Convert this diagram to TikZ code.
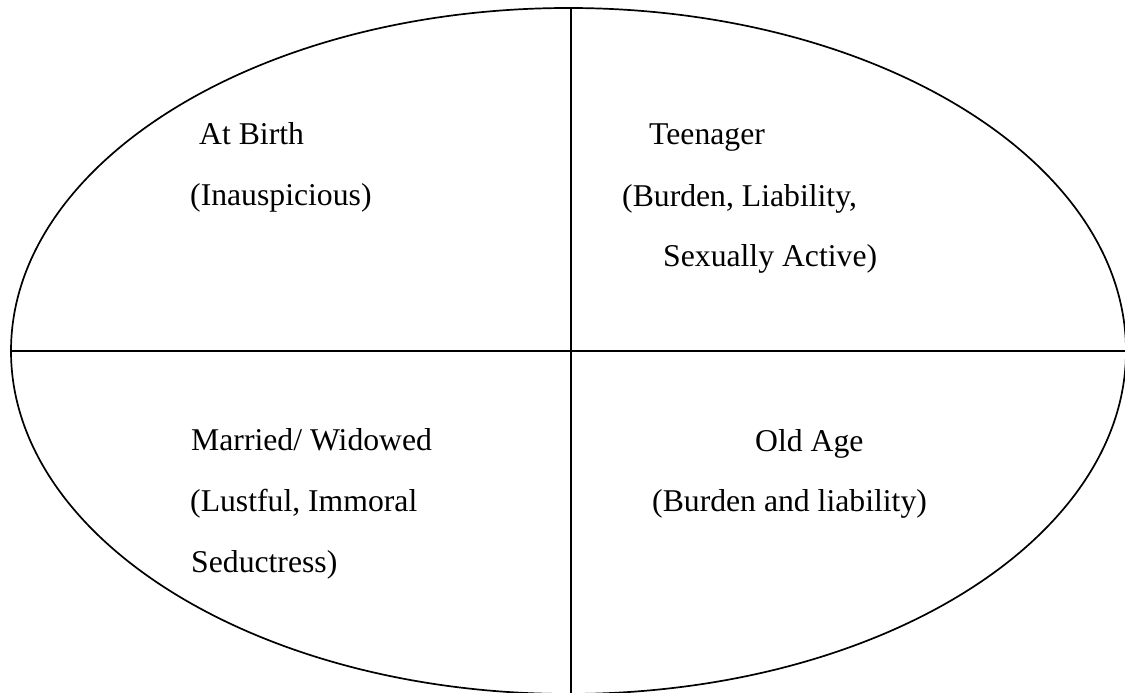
\documentclass[tikz,border=0pt]{standalone}
\usepackage{fontspec}
\setmainfont{Liberation Serif}
\begin{document}
\begin{tikzpicture}[x=1pt,y=1pt,
  outline/.style={draw=black,line width=1.7pt},
  label/.style={anchor=base west,inner sep=0pt,font=\fontsize{31.7}{38}\selectfont}]
\useasboundingbox (0,0) rectangle (1125,693);
% outer ellipse
\draw[outline] (568.5,342) ellipse [x radius=557.5, y radius=343];
% quadrant dividers
\coordinate (top) at (571,685);
\coordinate (bottom) at (571,-2);
\coordinate (left) at (11,342);
\coordinate (right) at (1126,342);
\draw[outline] (top) -- (bottom);
\draw[outline] (left) -- (right);
% upper left
\node[label] (birth) at (199,548) {At Birth};
\node[label] (birthnote) at (190,487) {(Inauspicious)};
% upper right
\node[label] (teen) at (649,548) {Teenager};
\node[label] (teennote1) at (622,486) {(Burden, Liability,};
\node[label] (teennote2) at (663,426) {Sexually Active)};
% lower left
\node[label] (married) at (191,242) {Married/ Widowed};
\node[label] (marriednote1) at (190,181) {(Lustful, Immoral};
\node[label] (marriednote2) at (191,120) {Seductress)};
% lower right
\node[label] (old) at (755,241) {Old Age};
\node[label] (oldnote) at (652,181) {(Burden and liability)};
\end{tikzpicture}
\end{document}
